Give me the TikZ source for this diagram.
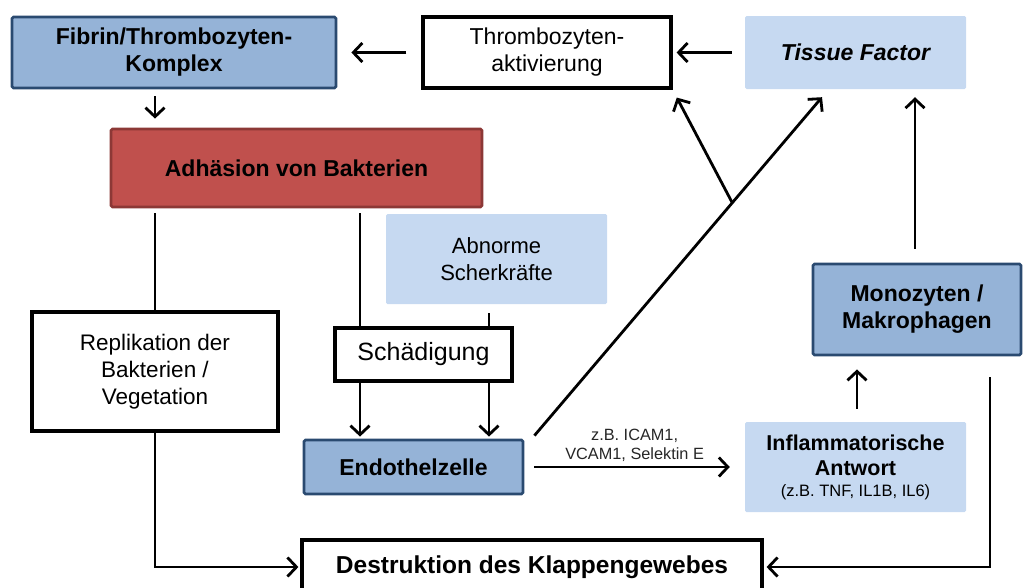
\documentclass[tikz,border=0pt]{standalone}
\usepackage{fontspec}
\setmainfont{Liberation Sans}
\usetikzlibrary{arrows.meta,calc}
\definecolor{bfill}{HTML}{95B3D7}
\definecolor{bdraw}{HTML}{2A4A70}
\definecolor{rfill}{HTML}{C0504D}
\definecolor{rdraw}{HTML}{8C3836}
\definecolor{lfill}{HTML}{C6D9F1}
\tikzset{
  base/.style={align=center, inner sep=2pt, font=\fontsize{23}{27}\selectfont},
  bluebox/.style={base, fill=bfill, draw=bdraw, line width=2.8pt, rounded corners=1.5pt, font=\fontsize{23}{27}\selectfont\bfseries},
  redbox/.style={base, fill=rfill, draw=rdraw, line width=2.8pt, rounded corners=1.5pt, font=\fontsize{23}{27}\selectfont\bfseries},
  whitebox/.style={base, fill=white, draw=black, line width=3.2pt},
  lightbox/.style={base, fill=lfill, rounded corners=1.5pt},
  conn/.style={line width=2.8pt, draw=black},
  arr/.style={conn, -{Straight Barb[length=9pt,width=19pt,line width=2.8pt]}},
  small/.style={font=\fontsize{16.3}{19}\selectfont}
}
\begin{document}
\begin{tikzpicture}[x=1pt,y=-1pt]
\useasboundingbox (0,0) rectangle (1023,587);
\clip (0,0) rectangle (1023,587);
% nodes
\node[bluebox, minimum width=324pt, minimum height=71pt] (fib) at (174,52.5) {Fibrin/Thrombozyten-\\Komplex};
\node[whitebox, minimum width=248pt, minimum height=71pt] (thr) at (547,52.5) {Thrombozyten-\\aktivierung};
\node[lightbox, minimum width=221pt, minimum height=73pt, font=\fontsize{23}{27}\selectfont\bfseries\itshape] (tis) at (855.5,52.5) {Tissue Factor};
\node[redbox, minimum width=371pt, minimum height=78pt] (adh) at (296.5,168) {Adhäsion von Bakterien};
\node[lightbox, minimum width=221pt, minimum height=90pt, font=\fontsize{22}{27}\selectfont] (abn) at (496.5,259) {Abnorme\\Scherkräfte};
\node[whitebox, minimum width=246pt, minimum height=119pt, font=\fontsize{22.5}{27}\selectfont] (rep) at (155,371.5) {Replikation der\\Bakterien /\\Vegetation};
\node[whitebox, minimum width=177pt, minimum height=53pt, font=\fontsize{25}{27}\selectfont] (sch) at (423.5,354.5) {Schädigung};
\node[bluebox, minimum width=219pt, minimum height=54pt] (endo) at (413.5,467) {Endothelzelle};
\node[bluebox, minimum width=208pt, minimum height=91pt] (mon) at (917,309.5) {Monozyten /\\Makrophagen};
\node[lightbox, minimum width=221pt, minimum height=90pt, font=\fontsize{21.5}{25}\selectfont\bfseries] (inf) at (855.5,467) {Inflammatorische\\Antwort\\[-4pt]{\mdseries\fontsize{16.5}{19}\selectfont (z.B. TNF, IL1B, IL6)}};
\node[whitebox, minimum width=460pt, minimum height=54pt, font=\fontsize{24.5}{27}\selectfont\bfseries] (des) at (532,567) {Destruktion des Klappengewebes};
% connectors
\draw[arr, shorten <=15pt, shorten >=14pt] (thr.west) -- (fib.east);
\draw[arr, shorten <=13pt, shorten >=4pt] (tis.west) -- (thr.east);
\draw[arr, shorten <=7pt, shorten >=9pt] (fib.south -| 155,0) -- (adh.north -| 155,0);
\draw[conn, shorten <=5pt] (adh.south -| rep.north) -- (rep.north);
\draw[arr, shorten >=2pt] (rep.south) |- (des.west);
\draw[conn, shorten <=5pt] (adh.south -| 360,0) -- (sch.north -| 360,0);
\draw[conn, shorten <=9pt] (abn.south -| 489,0) -- (sch.north -| 489,0);
\draw[arr, shorten >=2pt] (sch.south -| 360,0) -- (endo.north -| 360,0);
\draw[arr, shorten >=2pt] (sch.south -| 489,0) -- (endo.north -| 489,0);
\coordinate (d0) at ($(endo.north east)+(10,-3)$);
\coordinate (d1) at ($(tis.south)+(-33.5,8)$);
\coordinate (br) at ($(d0)!0.688!(d1)$);
\draw[arr] (d0) -- (d1);
\draw[arr, shorten >=9pt] (br) -- (thr.south east);
\draw[arr, shorten <=10pt, shorten >=15pt] (endo.east) -- node[above=1pt, small, align=center, text=black!85] {z.B. ICAM1,\\VCAM1, Selektin E} (inf.west);
\draw[arr, shorten <=13pt, shorten >=13pt] (inf.north -| 857,0) -- (mon.south -| 857,0);
\draw[arr, shorten <=14pt, shorten >=8pt] (mon.north -| 915,0) -- (tis.south -| 915,0);
\draw[arr, shorten <=21pt, shorten >=3pt] (mon.south -| 990,0) |- (des.east);
\end{tikzpicture}
\end{document}
